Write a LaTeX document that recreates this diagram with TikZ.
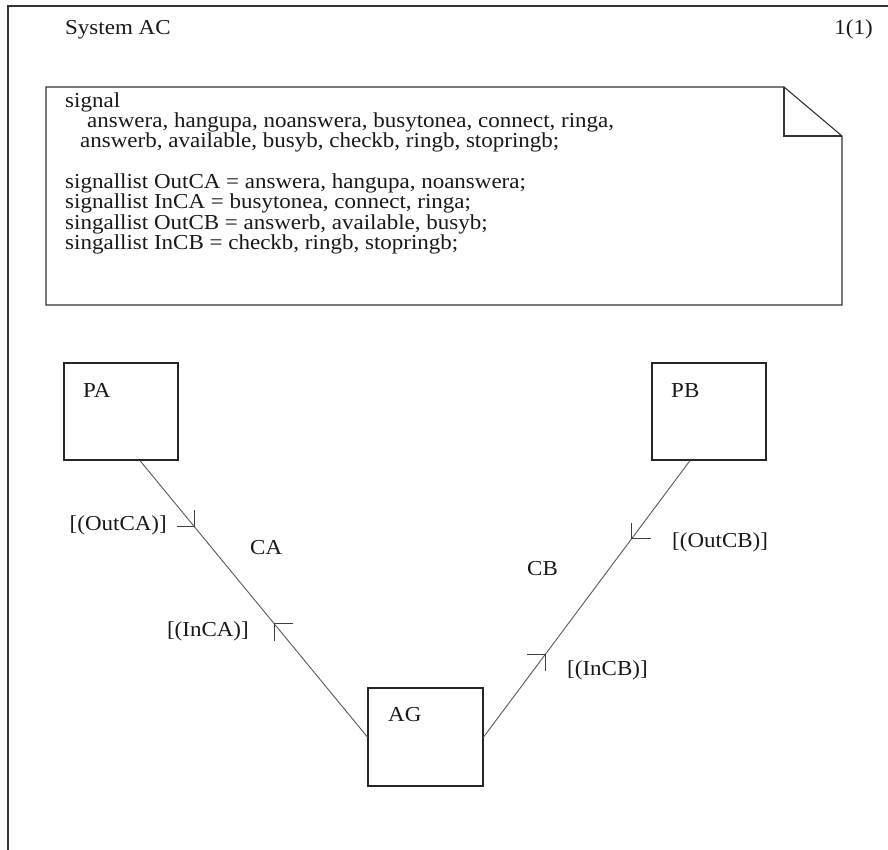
\documentclass[tikz,border=0pt]{standalone}
\usepackage{fontspec}
\setmainfont{Liberation Serif}[FakeStretch=1.08]
\usetikzlibrary{calc}
\newcommand\mydiagfont{\fontsize{21.3}{20.3}\selectfont\lineskiplimit=-30pt\relax\lineskip=0pt\relax}
\begin{document}
\begin{tikzpicture}[x=1pt,y=-1pt,
  every node/.style={font=\mydiagfont, inner sep=0pt, text=black!90},
  frameline/.style={draw=black!80, line width=1.3pt},
  notedraw/.style={draw=black!80, line width=1.1pt},
  box/.style={draw=black!85, line width=1.2pt, minimum width=114pt, minimum height=97pt},
  chan/.style={draw=black!65, line width=0.9pt},
  barb/.style={draw=black!75, line width=1pt},
]
\useasboundingbox (0,0) rectangle (888,850);
\fill[white] (0,0) rectangle (888,850);
% frame
\draw[frameline] (8,850) -- (8,6) -- (888,6);
\node[anchor=base west] (title) at (65,35) {System AC};
\node[anchor=base east] (page) at (873,35) {1(1)};
% note
\draw[notedraw] (46,87) -- (784,87) -- (842,136) -- (842,305) -- (46,305) -- cycle;
\draw[notedraw] (784,87) -- (784,136) -- (842,136);
\node[anchor=north west, align=left] (decl) at (65,92.2) {signal\\
\hspace*{22pt}answera, hangupa, noanswera, busytonea, connect, ringa,\\
\hspace*{15pt}answerb, available, busyb, checkb, ringb, stopringb;\\[20.5pt]
signallist OutCA = answera, hangupa, noanswera;\\
signallist InCA = busytonea, connect, ringa;\\
singallist OutCB = answerb, available, busyb;\\
singallist InCB = checkb, ringb, stopringb;};
% blocks
\node[box] (PA) at (121,411.5) {};
\node[box] (PB) at (709,411.5) {};
\node[box, minimum width=115pt, minimum height=98pt] (AG) at (425.5,737) {};
\node[anchor=base west] (PAt) at (83,397) {PA};
\node[anchor=base west] (PBt) at (671,397) {PB};
\node[anchor=base west] (AGt) at (388,721) {AG};
% channels
\coordinate (PAo) at ([xshift=19pt]PA.south);
\coordinate (PBo) at ([xshift=-19pt]PB.south);
\draw[chan] (PAo) -- (AG.west)
  coordinate[pos=0.24] (mOutCA)
  coordinate[pos=0.59] (mInCA);
\draw[chan] (PBo) -- (AG.east)
  coordinate[pos=0.283] (mOutCB)
  coordinate[pos=0.70] (mInCB);
% signal route arrowheads
\draw[barb] ($(mOutCA)+(-18,0)$) -- (mOutCA) -- ($(mOutCA)+(0,-17)$);
\draw[barb] ($(mInCA)+(19,0)$) -- (mInCA) -- ($(mInCA)+(0,17)$);
\draw[barb] ($(mOutCB)+(19,0)$) -- (mOutCB) -- ($(mOutCB)+(0,-16)$);
\draw[barb] ($(mInCB)+(-19,0)$) -- (mInCB) -- ($(mInCB)+(0,17)$);
% labels
\node[anchor=base east] (lOutCA) at (167,530) {[(OutCA)]};
\node[anchor=base west] (lCA) at (250,554) {CA};
\node[anchor=base east] (lInCA) at (249,636) {[(InCA)]};
\node[anchor=base west] (lOutCB) at (672,547) {[(OutCB)]};
\node[anchor=base west] (lCB) at (527,575) {CB};
\node[anchor=base west] (lInCB) at (567,675) {[(InCB)]};
\end{tikzpicture}
\end{document}
